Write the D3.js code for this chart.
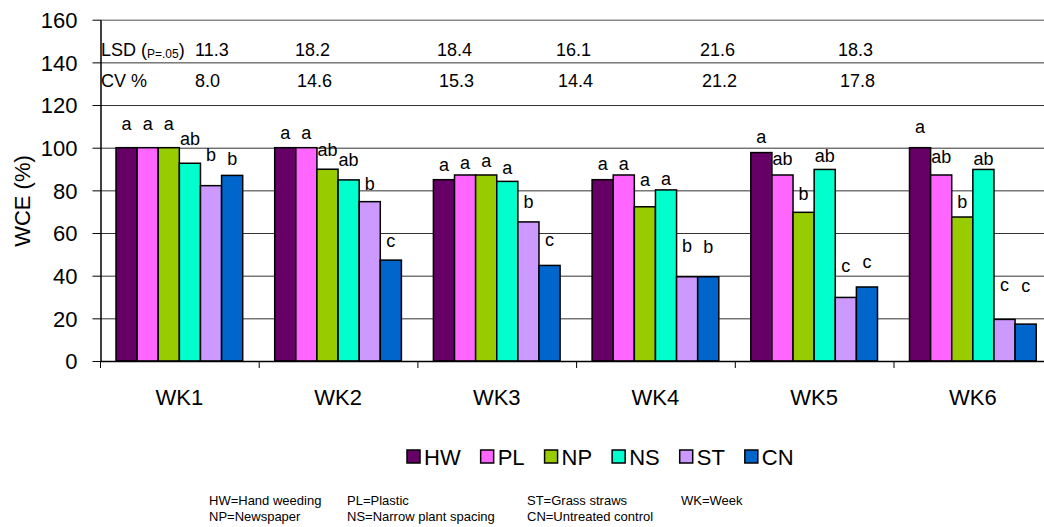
<!DOCTYPE html>
<html>
  <head>
    <meta charset="utf-8" />
    <title>WCE chart</title>
    <script src="https://cdn.jsdelivr.net/npm/d3@7"></script>
    <style type="text/css">
      body { margin: 0; background: #fff; }
      text { font-family: Arial, 'Liberation Sans', sans-serif; fill: #000; }
    </style>
  </head>

  <body>
    <svg id="chart" width="1044" height="527"></svg>
    <script type="text/javascript">
      // data
      var weeks = ['WK1', 'WK2', 'WK3', 'WK4', 'WK5', 'WK6'];
      var treatments = ['HW', 'PL', 'NP', 'NS', 'ST', 'CN'];
      var colors = ['#660066', '#ff66ff', '#99cc00', '#00ffcc', '#cc99ff', '#0066cc'];

      var HW = [100, 100, 85, 85, 97.7, 100];
      var PL = [100, 100, 87.2, 87.2, 87.2, 87.2];
      var NP = [100, 89.9, 87.2, 72.3, 69.7, 67.5];
      var NS = [92.7, 84.9, 84.2, 80.2, 89.8, 89.8];
      var ST = [82.2, 74.7, 65.2, 39.5, 29.8, 19.5];
      var CN = [87, 47.3, 44.8, 39.5, 34.7, 17.3];

      var HWlet = ['a', 'a', 'a', 'a', 'a', 'a'];
      var PLlet = ['a', 'a', 'a', 'a', 'ab', 'ab'];
      var NPlet = ['a', 'ab', 'a', 'a', 'b', 'b'];
      var NSlet = ['ab', 'ab', 'a', 'a', 'ab', 'ab'];
      var STlet = ['b', 'b', 'b', 'b', 'c', 'c'];
      var CNlet = ['b', 'c', 'c', 'b', 'c', 'c'];

      var lsd = ['11.3', '18.2', '18.4', '16.1', '21.6', '18.3'];
      var cv = ['8.0', '14.6', '15.3', '14.4', '21.2', '17.8'];
      var yTicks = [0, 20, 40, 60, 80, 100, 120, 140, 160];

      var notes = [
        ['HW=Hand weeding', 'PL=Plastic', 'ST=Grass straws', 'WK=Week'],
        ['NP=Newspaper', 'NS=Narrow plant spacing', 'CN=Untreated control', ''],
      ];

      var values = [HW, PL, NP, NS, ST, CN];
      var letters = [HWlet, PLlet, NPlet, NSlet, STlet, CNlet];

      // layout: how far each letter sits above its bar (px), as placed by hand in the original
      var labLift = [
        [18, 9, 9, 10, 10, 15],
        [18, 9, 6, 5, 10, 12],
        [18, 13, 8, 21, 12, 9],
        [18, 14, 7, 5, 7, 4],
        [25, 12, 14, 25, 25, 28],
        [10, 13, 19, 24, 19, 32],
      ];

      var rows = [];
      weeks.forEach(function (w, i) {
        treatments.forEach(function (t, j) {
          rows.push({ week: w, t: t, v: values[j][i], lab: letters[j][i], c: colors[j], lift: labLift[j][i] });
        });
      });

      var plotLeft = 100, plotTop = 19.7, plotBottom = 361;
      var catW = 158.7;

      var svg = d3.select('#chart');

      var x = d3.scaleBand().domain(weeks).range([plotLeft, plotLeft + catW * weeks.length]);
      var xi = d3.scaleBand().domain(treatments).range([16, catW - 16]);
      var y = d3.scaleLinear().domain([0, 160]).range([plotBottom, plotTop]);

      // gridlines
      svg.append('g')
        .selectAll('line')
        .data(yTicks.filter((d) => d > 0))
        .enter()
        .append('line')
        .attr('x1', plotLeft)
        .attr('x2', 1044)
        .attr('y1', (d) => y(d) + 0.5)
        .attr('y2', (d) => y(d) + 0.5)
        .attr('stroke', (d) => (d === 160 ? '#8a8a8a' : '#333'))
        .attr('stroke-width', (d) => (d === 160 ? 1.5 : 1));

      // y axis
      var ya = svg.append('g')
        .attr('transform', 'translate(' + (plotLeft + 0.5) + ',0)')
        .call(d3.axisLeft(y).tickValues(yTicks).tickSize(8).tickPadding(15).tickSizeOuter(0));
      ya.select('.domain').attr('stroke', '#000').attr('stroke-width', 1.5);
      ya.selectAll('.tick line').attr('stroke', '#000');
      ya.selectAll('.tick text')
        .attr('font-size', 22)
        .attr('font-family', 'Arial, Liberation Sans, sans-serif')
        .attr('dy', '0.36em');

      svg.append('text')
        .attr('transform', 'translate(30,201) rotate(-90)')
        .attr('text-anchor', 'middle')
        .attr('font-size', 22)
        .text('WCE (%)');

      // bars
      var g = svg.append('g');
      g.selectAll('rect')
        .data(rows)
        .enter()
        .append('rect')
        .attr('x', (d) => x(d.week) + xi(d.t))
        .attr('y', (d) => y(d.v))
        .attr('width', xi.bandwidth())
        .attr('height', (d) => y(0) - y(d.v))
        .attr('fill', (d) => d.c)
        .attr('stroke', '#000')
        .attr('stroke-width', 1.5);

      g.selectAll('text')
        .data(rows)
        .enter()
        .append('text')
        .attr('x', (d) => x(d.week) + xi(d.t) + xi.bandwidth() / 2)
        .attr('y', (d) => y(d.v) - d.lift)
        .attr('text-anchor', 'middle')
        .attr('font-size', 18)
        .text((d) => d.lab);

      // x axis
      svg.append('line')
        .attr('x1', plotLeft).attr('x2', 1044)
        .attr('y1', plotBottom + 0.5).attr('y2', plotBottom + 0.5)
        .attr('stroke', '#000').attr('stroke-width', 1.5);
      svg.append('g')
        .selectAll('line')
        .data(weeks)
        .enter()
        .append('line')
        .attr('x1', (d) => x(d) + 0.5)
        .attr('x2', (d) => x(d) + 0.5)
        .attr('y1', plotBottom)
        .attr('y2', plotBottom + 7)
        .attr('stroke', '#000');
      svg.append('g')
        .selectAll('text')
        .data(weeks)
        .enter()
        .append('text')
        .attr('x', (d) => x(d) + x.bandwidth() / 2)
        .attr('y', 405)
        .attr('text-anchor', 'middle')
        .attr('font-size', 22)
        .text((d) => d);

      // LSD / CV table in the top of the plot
      var tabX = [195, 295, 437, 556, 700, 838];
      var lsdRow = svg.append('text').attr('x', 101).attr('y', 56).attr('font-size', 18);
      lsdRow.append('tspan').text('LSD (');
      lsdRow.append('tspan').attr('font-size', 12).attr('dy', 2).text('P=.05');
      lsdRow.append('tspan').attr('dy', -2).text(')');
      svg.append('text').attr('x', 101).attr('y', 87).attr('font-size', 18).text('CV %');

      svg.append('g')
        .selectAll('text')
        .data(lsd)
        .enter()
        .append('text')
        .attr('x', (d, i) => tabX[i])
        .attr('y', 56)
        .attr('font-size', 18)
        .text((d) => d);
      svg.append('g')
        .selectAll('text')
        .data(cv)
        .enter()
        .append('text')
        .attr('x', (d, i) => tabX[i] + (i === 0 ? 0 : 2))
        .attr('y', 87)
        .attr('font-size', 18)
        .text((d) => d);

      // legend, laid out in a row by text width
      var lg = svg.append('g').attr('transform', 'translate(407,450)');
      var lx = 0;
      treatments.forEach(function (t, i) {
        var it = lg.append('g').attr('transform', 'translate(' + lx + ',0)');
        it.append('rect')
          .attr('width', 13)
          .attr('height', 13)
          .attr('fill', colors[i])
          .attr('stroke', '#000')
          .attr('stroke-width', 1.5);
        var tx = it.append('text')
          .attr('x', 17)
          .attr('y', 15)
          .attr('font-size', 22)
          .text(t);
        lx += 17 + tx.node().getComputedTextLength() + 20;
      });

      // footnote
      var noteX = [209, 347, 527, 681];
      notes.forEach(function (r, ri) {
        svg.append('g')
          .selectAll('text')
          .data(r)
          .enter()
          .append('text')
          .attr('x', (d, i) => noteX[i])
          .attr('y', 505 + ri * 16)
          .attr('font-size', 13)
          .text((d) => d);
      });
    </script>
</body>
</html>
